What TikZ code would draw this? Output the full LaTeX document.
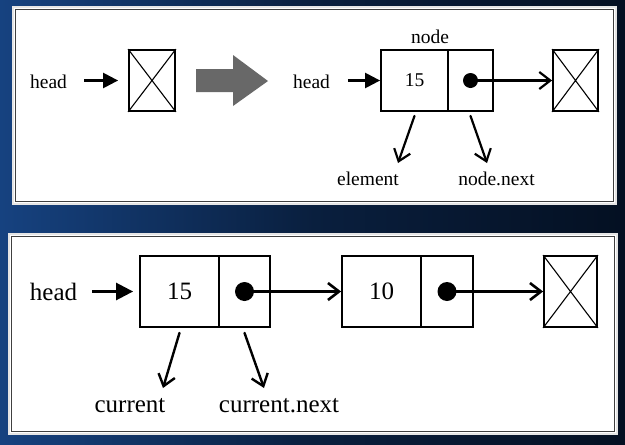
\documentclass[tikz,border=0pt]{standalone}
\usepackage{fontspec}
\setmainfont{Liberation Serif}
\usetikzlibrary{arrows.meta}

\definecolor{navy}{RGB}{4,16,34}
\definecolor{steel}{RGB}{22,66,128}
\definecolor{arrowgray}{RGB}{104,104,104}

\begin{document}
\begin{tikzpicture}[x=1pt, y=-1pt,
    cell/.style={draw, line width=1.8pt, inner sep=0pt, fill=white},
    dot/.style={circle, fill, inner sep=0pt},
    headptr/.style={line width=#1, -{Triangle[length=15pt,width=15pt]}},
    headptr/.default=2.4pt,
    link/.style={line width=#1, line cap=round, -{Straight Barb[length=11pt,width=17pt]}},
    link/.default=2.2pt,
    cross/.style={line width=1.1pt},
    small/.style={font=\fontsize{19.5}{22}\selectfont},
    big/.style={font=\fontsize{25}{28}\selectfont}]

      \useasboundingbox (0,0) rectangle (625,445);
      \shade[left color=steel, right color=navy, middle color=navy!70!steel] (0,0) rectangle (625,445);

      \draw[fill=white, draw=white!80!gray, line width=1.5pt] (13,7) rectangle (616,204);
      \draw[draw=black!75, line width=1.2pt] (15.5,9.5) rectangle (613.5,201.5);
      \draw[fill=white, draw=white!80!gray, line width=1.5pt] (9,234) rectangle (617,434);
      \draw[draw=black!75, line width=1.2pt] (11.5,236.5) rectangle (614.5,431.5);

      % before
      \draw (48.5,82) node[small] (head1) {head};
      \draw (152,80.5) node[cell, minimum width=46pt, minimum height=61pt] (nil1) {};
      \draw[cross] (nil1.north west) -- (nil1.south east) (nil1.north east) -- (nil1.south west);
      \draw[headptr, shorten <=13.8pt, shorten >=10pt] (head1.east |- nil1) -- (nil1);

      \fill[arrowgray] (196,69) -- (233,69) -- (233,55) -- (268,81) -- (233,106) -- (233,92) -- (196,92) -- cycle;

      % after
      \draw (311.5,82) node[small] (head2) {head};
      \draw (414.5,80.5) node[cell, minimum width=67pt, minimum height=61pt, small] (val1) {15};
      \draw (470.5,80.5) node[cell, minimum width=45pt, minimum height=61pt] (next1) {};
      \draw (575.5,80.5) node[cell, minimum width=45pt, minimum height=61pt] (nil2) {};
      \draw[cross] (nil2.north west) -- (nil2.south east) (nil2.north east) -- (nil2.south west);
      \draw (next1.center) node[dot, minimum size=15pt] (d1) {};
      \draw (430,36.5) node[small] (lbl) {node};
      \draw (368,178.5) node[small] (elem) {element};
      \draw (496.5,178.5) node[small] (nnext) {node.next};
      \coordinate (eltip) at (398,163);
      \coordinate (nntip) at (487,163);

      \draw[headptr, shorten <=14.5pt] (head2.east |- val1) -- (val1);
      \draw[link] (d1.center) -- (nil2);
      \draw[link] ([yshift=-4pt]val1.south) -- (eltip);
      \draw[link] ([yshift=-4pt]next1.south) -- (nntip);

      % traversal
      \draw (53.5,292) node[big] (head3) {head};
      \draw (179.5,291.5) node[cell, minimum width=79pt, minimum height=71pt, big] (val2) {15};
      \draw (244.5,291.5) node[cell, minimum width=51pt, minimum height=71pt] (next2) {};
      \draw (381.5,291.5) node[cell, minimum width=79pt, minimum height=71pt, big] (val3) {10};
      \draw (447,291.5) node[cell, minimum width=52pt, minimum height=71pt] (next3) {};
      \draw (570.5,291.5) node[cell, minimum width=53pt, minimum height=71pt] (nil3) {};
      \draw[cross] (nil3.north west) -- (nil3.south east) (nil3.north east) -- (nil3.south west);
      \draw (next2.center) node[dot, minimum size=19pt] (d2) {};
      \draw (next3.center) node[dot, minimum size=19pt] (d3) {};
      \draw (130,406) node[big] (cur) {current};
      \draw (279,406) node[big] (curnext) {current.next};
      \coordinate (curtip) at (163,388);
      \coordinate (cntip) at (264,388);

      \draw[headptr=2.6pt, -{Triangle[length=17pt,width=17pt]}, shorten <=11.6pt, shorten >=6pt] (head3.east |- val2) -- (val2);
      \draw[link=2.6pt] (d2.center) -- (val3);
      \draw[link=2.6pt] (d3.center) -- (nil3);
      \draw[link=2.4pt] ([yshift=-5pt]val2.south) -- (curtip);
      \draw[link=2.4pt] ([yshift=-5pt]next2.south) -- (cntip);
    \end{tikzpicture}
\end{document}
